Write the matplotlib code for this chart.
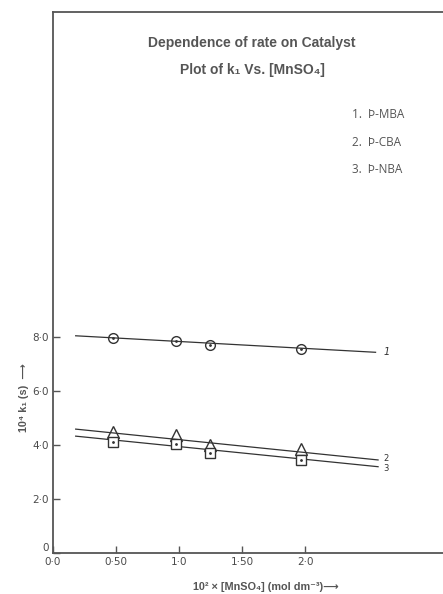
import matplotlib.pyplot as plt

# Data
conc_pts = [0.48, 0.98, 1.25, 1.97]          # 10^2 x [MnSO4]
k_mba = [7.95, 7.85, 7.69, 7.53]             # 1. p-MBA (circles)
k_cba = [4.48, 4.36, 3.99, 3.84]             # 2. p-CBA (triangles)
k_nba = [4.12, 4.03, 3.70, 3.44]             # 3. p-NBA (squares)

# hand drawn fit lines (start, end)
line_x = [0.18, 2.58]
line_mba = [8.03, 7.42]
line_cba = [4.58, 3.44]
line_nba = [4.32, 3.19]

xticks = [0.0, 0.5, 1.0, 1.5, 2.0]
xtick_labels = ['0·0', '0·50', '1·0', '1·50', '2·0']
yticks = [0, 2, 4, 6, 8]
ytick_labels = ['0', '2·0', '4·0', '6·0', '8·0']
legend_items = ['1.  Þ-MBA', '2.  Þ-CBA', '3.  Þ-NBA']

ink = '#4a4a4a'
W, H = 443, 594

fig = plt.figure(figsize=(W / 100, H / 100), dpi=100)
ax = fig.add_axes([53 / W, (H - 553) / H, (W - 53) / W, (553 - 12) / H])
ax.set_xlim(0, 390 / 126)
ax.set_ylim(0, 541 / 27.05)

for s in ['left', 'bottom', 'top']:
    ax.spines[s].set_color('#555555')
    ax.spines[s].set_linewidth(1.3)
ax.spines['right'].set_visible(False)

ax.set_xticks(xticks)
ax.set_xticklabels(xtick_labels)
ax.set_yticks(yticks)
ax.set_yticklabels(ytick_labels)
ax.tick_params(direction='in', length=5, width=1, color='#555555',
               labelcolor=ink, labelsize=7.5)
ax.tick_params(axis='x', pad=3)
ax.tick_params(axis='y', pad=3)
# lift the "0" so it sits above the corner like in the original
ax.get_yticklabels()[0].set_va('bottom')

# fitted lines
ax.plot(line_x[:1] + [2.56], line_mba, color='#333333', lw=0.9)
ax.plot(line_x, line_cba, color='#333333', lw=0.9)
ax.plot(line_x, line_nba, color='#333333', lw=0.9)

# data points
ax.plot(conc_pts, k_mba, 'o', ms=7, mfc='none', mec='#333333', mew=1)
ax.plot(conc_pts, k_mba, '.', ms=2, color='#333333')
ax.plot(conc_pts, k_cba, '^', ms=8, mfc='none', mec='#333333', mew=1)
ax.plot(conc_pts, k_nba, 's', ms=7, mfc='white', mec='#333333', mew=1)
ax.plot(conc_pts, k_nba, '.', ms=2, color='#333333')

# line numbers
ax.text(2.62, line_mba[1], '1', fontsize=7, style='italic', color='#333333', va='center')
ax.text(2.62, line_cba[1] + 0.05, '2', fontsize=6, color='#333333', va='center')
ax.text(2.62, line_nba[1] - 0.05, '3', fontsize=6, color='#333333', va='center')

# titles
title_font = ['Liberation Sans', 'DejaVu Sans']
fig.text(252 / W, 1 - 43 / H, 'Dependence of rate on Catalyst', ha='center', va='center',
         fontsize=10, fontweight='bold', color='#555555', family=title_font)
fig.text(252 / W, 1 - 70 / H, 'Plot of k₁ Vs. [MnSO₄]', ha='center', va='center',
         fontsize=10, fontweight='bold', color='#555555', family=title_font)

# legend text
for i, item in enumerate(legend_items):
    fig.text(352 / W, 1 - (114 + 28 * i) / H, item, ha='left', va='center',
             fontsize=8.5, color='#555555', family='Open Sans')

# axis labels
fig.text(266 / W, 1 - 587 / H, '10² × [MnSO₄] (mol dm⁻³)⟶', ha='center', va='center',
         fontsize=7.8, fontweight='bold', color='#555555', family=['Liberation Sans', 'DejaVu Sans'])
fig.text(24 / W, 1 - 398 / H, '10⁴ k₁ (s)  ⟶', ha='center', va='center', rotation=90,
         fontsize=7.8, fontweight='bold', color='#555555', family=['Liberation Sans', 'DejaVu Sans'])

fig.savefig('out.png', dpi=100)
